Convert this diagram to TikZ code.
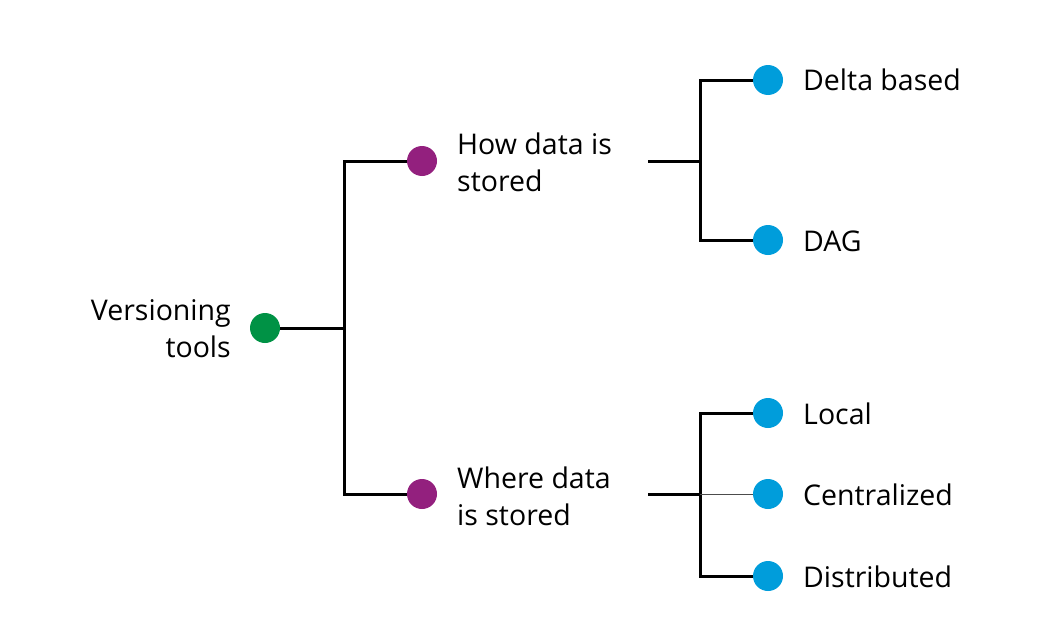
\documentclass[tikz,border=0pt]{standalone}
\usepackage{fontspec}
\setmainfont{Open Sans}
\definecolor{dgreen}{RGB}{0,146,69}
\definecolor{dpurple}{RGB}{147,32,126}
\definecolor{dblue}{RGB}{0,157,219}
\begin{document}
\begin{tikzpicture}[x=1pt,y=-1pt,
  dot/.style={circle,minimum size=30pt,inner sep=0pt,fill=#1},
  lbl/.style={inner sep=0pt,align=left,anchor=west,font=\fontsize{28.5}{37}\selectfont},
  lblr/.style={inner sep=0pt,align=right,anchor=east,font=\fontsize{28.5}{37}\selectfont},
  conn/.style={line width=3pt},
  thin/.style={line width=1pt,black!70}]
\useasboundingbox (0,0) rectangle (1056,626);
% dots
\node[dot=dgreen] (root) at (265,328) {};
\node[dot=dpurple] (how) at (422,161) {};
\node[dot=dpurple] (where) at (422,494) {};
\node[dot=dblue] (delta) at (768,80) {};
\node[dot=dblue] (dag) at (768,240) {};
\node[dot=dblue] (local) at (768,413) {};
\node[dot=dblue] (central) at (768,494) {};
\node[dot=dblue] (distr) at (768,576) {};
% labels
\node[lblr] (troot) at (231,329) {Versioning\\tools};
\node[lbl] (thow) at (457,162) {How data is\\stored};
\node[lbl] (twhere) at (457,496) {Where data\\is stored};
\node[lbl] (tdelta) at (803,80) {Delta based};
\node[lbl] (tdag) at (803,241) {DAG};
\node[lbl] (tlocal) at (803,414) {Local};
\node[lbl] (tcentral) at (803,495) {Centralized};
\node[lbl] (tdistr) at (803,577) {Distributed};
% junctions
\coordinate (j1) at (344,328);
\coordinate (h1) at (648,161);
\coordinate (j2) at (700,161);
\coordinate (h2) at (648,494);
\coordinate (j3) at (700,494);
% connectors
\draw[conn] (root) -- (j1);
\draw[conn] (j1) |- (how);
\draw[conn] (j1) |- (where);
\draw[conn] (h1) -- (j2);
\draw[conn] (j2) |- (delta);
\draw[conn] (j2) |- (dag);
\draw[conn] (h2) -- (j3);
\draw[conn] (j3) |- (local);
\draw[conn] (j3) |- (distr);
\draw[thin] (j3) -- (central);
\end{tikzpicture}
\end{document}
